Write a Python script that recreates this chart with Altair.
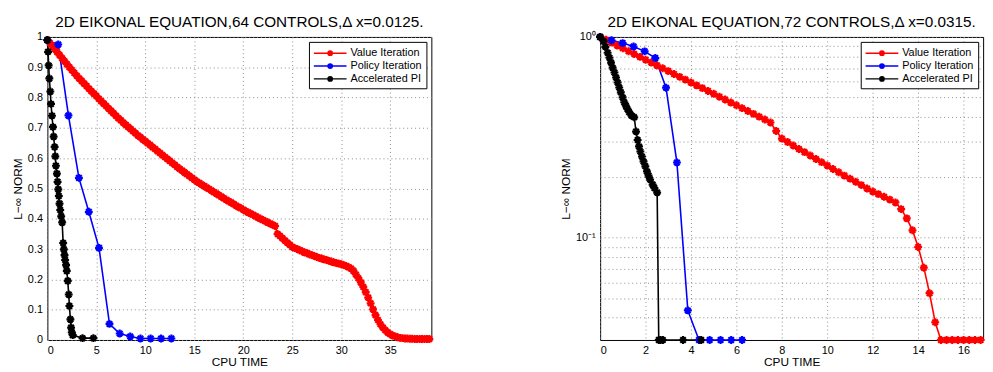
import altair as alt
import pandas as pd

METHODS = ["Value Iteration", "Policy Iteration", "Accelerated PI"]
COLORS = ["#ff0000", "#0000ff", "#000000"]

TITLE_64 = "2D EIKONAL EQUATION,64 CONTROLS,\u0394 x=0.0125."
TITLE_72 = "2D EIKONAL EQUATION,72 CONTROLS,\u0394 x=0.0315."

# ---- 2D Eikonal, 64 controls, dx = 0.0125 ----
VI_T_64 = [0, 0.25, 0.5, 0.75, 1, 1.25, 1.5, 1.75, 2, 2.25, 2.5, 2.75, 3, 3.25, 3.5, 3.75,
           4, 4.25, 4.5, 4.75, 5, 5.25, 5.5, 5.75, 6, 6.25, 6.5, 6.75, 7, 7.25, 7.5, 7.75,
           8, 8.25, 8.5, 8.75, 9, 9.25, 9.5, 9.75, 10, 10.25, 10.5, 10.75, 11, 11.25, 11.5,
           11.75, 12, 12.25, 12.5, 12.75, 13, 13.25, 13.5, 13.75, 14, 14.25, 14.5, 14.75,
           15, 15.25, 15.5, 15.75, 16, 16.25, 16.5, 16.75, 17, 17.25, 17.5, 17.75, 18, 18.25,
           18.5, 18.75, 19, 19.25, 19.5, 19.75, 20, 20.25, 20.5, 20.75, 21, 21.25, 21.5,
           21.75, 22, 22.25, 22.5, 22.75, 23, 23.25, 23.5, 23.75, 24, 24.25, 24.5, 24.75,
           25, 25.25, 25.5, 25.75, 26, 26.25, 26.5, 26.75, 27, 27.25, 27.5, 27.75, 28, 28.25,
           28.5, 28.75, 29, 29.25, 29.5, 29.75, 30, 30.25, 30.5, 30.75, 31, 31.25, 31.5,
           31.75, 32, 32.25, 32.5, 32.75, 33, 33.25, 33.5, 33.75, 34, 34.25, 34.5, 34.75,
           35, 35.25, 35.5, 35.75, 36, 36.25, 36.5, 36.75, 37, 37.25, 37.5, 37.75, 38, 38.25,
           38.5, 38.75, 39]
VI_E_64 = [0.990, 0.980, 0.970, 0.960, 0.950, 0.940, 0.930, 0.920, 0.910, 0.900, 0.891, 0.881,
           0.872, 0.863, 0.855, 0.846, 0.838, 0.829, 0.821, 0.813, 0.805, 0.796, 0.788, 0.780,
           0.772, 0.764, 0.756, 0.748, 0.740, 0.732, 0.725, 0.717, 0.710, 0.703, 0.696, 0.689,
           0.682, 0.675, 0.669, 0.662, 0.656, 0.649, 0.643, 0.636, 0.630, 0.623, 0.617, 0.610,
           0.604, 0.597, 0.591, 0.584, 0.578, 0.571, 0.565, 0.559, 0.553, 0.547, 0.541, 0.535,
           0.529, 0.523, 0.518, 0.513, 0.508, 0.503, 0.498, 0.493, 0.488, 0.483, 0.478, 0.473,
           0.468, 0.463, 0.458, 0.454, 0.449, 0.444, 0.439, 0.435, 0.430, 0.425, 0.421, 0.417,
           0.413, 0.408, 0.404, 0.400, 0.396, 0.392, 0.388, 0.384, 0.380, 0.376, 0.350, 0.343,
           0.336, 0.328, 0.321, 0.314, 0.307, 0.303, 0.300, 0.296, 0.293, 0.289, 0.286, 0.283,
           0.280, 0.277, 0.274, 0.271, 0.269, 0.266, 0.264, 0.261, 0.259, 0.256, 0.254, 0.252,
           0.250, 0.247, 0.244, 0.240, 0.236, 0.228, 0.216, 0.204, 0.190, 0.175, 0.158, 0.140,
           0.121, 0.101, 0.082, 0.066, 0.052, 0.041, 0.032, 0.025, 0.019, 0.015, 0.012, 0.009,
           0.007, 0.006, 0.005, 0.005, 0.004, 0.004, 0.003, 0.003, 0.003, 0.003, 0.003, 0.003,
           0.003]
PI_T_64 = [0, 1.11, 2.15, 3.22, 4.23, 5.27, 6.34, 7.38, 8.46, 9.50, 10.54, 11.61, 12.66]
PI_E_64 = [0.989, 0.975, 0.741, 0.535, 0.423, 0.304, 0.053, 0.0215, 0.0117, 0.005, 0.005,
           0.005, 0.005]
API_T_64 = [0, 0.07, 0.13, 0.20, 0.30, 0.37, 0.47, 0.57, 0.64, 0.74, 0.81, 0.87, 0.97, 1.04,
            1.11, 1.17, 1.24, 1.31, 1.41, 1.51, 1.61, 1.68, 1.75, 1.81, 1.91, 1.98, 2.08, 2.18,
            2.25, 2.35, 2.42, 2.49, 2.59, 3.59, 4.70]
API_E_64 = [0.990, 0.951, 0.906, 0.863, 0.820, 0.779, 0.740, 0.703, 0.671, 0.637, 0.606, 0.575,
            0.549, 0.522, 0.497, 0.475, 0.450, 0.429, 0.408, 0.388, 0.320, 0.299, 0.280, 0.264,
            0.247, 0.228, 0.195, 0.150, 0.112, 0.068, 0.041, 0.025, 0.016, 0.006, 0.006]

# ---- 2D Eikonal, 72 controls, dx = 0.0315 ----
VI_T_72 = [0, 0.25, 0.5, 0.75, 1, 1.25, 1.5, 1.75, 2, 2.25, 2.5, 2.75, 3, 3.25, 3.5, 3.75, 4,
           4.25, 4.5, 4.75, 5, 5.25, 5.5, 5.75, 6, 6.25, 6.5, 6.75, 7, 7.25, 7.5, 7.75, 8,
           8.25, 8.5, 8.75, 9, 9.25, 9.5, 9.75, 10, 10.25, 10.5, 10.75, 11, 11.25, 11.5, 11.75,
           12, 12.25, 12.5, 12.75, 13, 13.25, 13.5, 13.75, 14, 14.25, 14.5, 14.75, 15, 15.25,
           15.5, 15.75, 16, 16.25, 16.5, 16.75]
VI_E_72 = [1.000, 0.968, 0.937, 0.907, 0.878, 0.849, 0.822, 0.796, 0.770, 0.746, 0.722, 0.698,
           0.676, 0.654, 0.633, 0.613, 0.593, 0.574, 0.556, 0.538, 0.521, 0.504, 0.488, 0.472,
           0.457, 0.442, 0.428, 0.414, 0.401, 0.388, 0.375, 0.340, 0.312, 0.300, 0.288, 0.277,
           0.267, 0.257, 0.247, 0.238, 0.229, 0.220, 0.212, 0.204, 0.197, 0.190, 0.183, 0.176,
           0.170, 0.165, 0.160, 0.155, 0.150, 0.139, 0.125, 0.109, 0.090, 0.071, 0.053, 0.038,
           0.031, 0.031, 0.031, 0.031, 0.031, 0.031, 0.031, 0.031]
PI_T_72 = [0, 0.5, 0.99, 1.47, 1.96, 2.43, 2.90, 3.38, 3.86, 4.35, 4.82, 5.30, 5.77, 6.25]
PI_E_72 = [1.0, 0.963, 0.932, 0.896, 0.848, 0.785, 0.559, 0.237, 0.0435, 0.031, 0.031, 0.031,
           0.031, 0.031]
API_T_72 = [0, 0.15, 0.23, 0.33, 0.41, 0.48, 0.55, 0.63, 0.70, 0.77, 0.84, 0.91, 0.99, 1.06,
            1.13, 1.20, 1.28, 1.38, 1.50, 1.58, 1.65, 1.71, 1.77, 1.84, 1.91, 1.99, 2.06, 2.13,
            2.20, 2.31, 2.39, 2.51, 2.58, 2.66, 2.76, 3.65, 4.45]
API_E_72 = [1.0, 0.952, 0.893, 0.834, 0.788, 0.745, 0.703, 0.665, 0.628, 0.593, 0.560, 0.530,
            0.500, 0.473, 0.455, 0.438, 0.422, 0.406, 0.398, 0.338, 0.307, 0.285, 0.269, 0.254,
            0.240, 0.227, 0.214, 0.204, 0.195, 0.184, 0.177, 0.168, 0.031, 0.031, 0.031, 0.031,
            0.031]

X_TICKS_64 = [0, 5, 10, 15, 20, 25, 30, 35]
Y_TICKS_64 = [0, 0.1, 0.2, 0.3, 0.4, 0.5, 0.6, 0.7, 0.8, 0.9, 1]
X_TICKS_72 = [0, 2, 4, 6, 8, 10, 12, 14, 16]
Y_GRID_72 = [0.04, 0.05, 0.06, 0.07, 0.08, 0.09, 0.1, 0.2, 0.3, 0.4, 0.5, 0.6, 0.7, 0.8, 0.9, 1]

FONT = "Liberation Sans"
PLOT_H = 307
# asterisk-style data marker (eight rays)
ASTERISK = "M0,-1L0,1M-1,0L1,0M-0.7,-0.7L0.7,0.7M-0.7,0.7L0.7,-0.7"
# legend key: a line segment with a small solid dot in the middle
LEGEND_SYMBOL = ("M-2.55,0L2.55,0"
                 "M0.34,0A0.34,0.34,0,1,1,-0.34,0A0.34,0.34,0,1,1,0.34,0Z"
                 "M0.2,0A0.2,0.2,0,1,1,-0.2,0A0.2,0.2,0,1,1,0.2,0Z"
                 "M0.08,0A0.08,0.08,0,1,1,-0.08,0A0.08,0.08,0,1,1,0.08,0Z")


def long_frame(series):
    rows = []
    for name, times, errs in series:
        for t, e in zip(times, errs):
            rows.append({"t": t, "err": e, "method": name})
    return pd.DataFrame(rows)


def panel(df, title, x_dom, x_ticks, y_scale, y_axis, width):
    color = alt.Color(
        "method:N",
        scale=alt.Scale(domain=METHODS, range=COLORS),
        legend=alt.Legend(
            title=None, orient="top-right", offset=5,
            symbolType=LEGEND_SYMBOL, symbolSize=169, symbolStrokeWidth=1.4,
            symbolOffset=10,
            strokeColor="black", fillColor="white", padding=4, rowPadding=0,
            labelFont=FONT, labelFontSize=11, labelColor="black", labelOffset=13,
            cornerRadius=0,
        ),
    )
    base = alt.Chart(df).encode(
        x=alt.X("t:Q", title="CPU TIME",
                scale=alt.Scale(domain=x_dom, nice=False, zero=False),
                axis=alt.Axis(values=x_ticks, format="~g")),
        y=alt.Y("err:Q", title="L\u2212\u221e NORM", scale=y_scale, axis=y_axis),
        color=color,
    )
    lines = base.mark_line(strokeWidth=1.6)
    marks = base.mark_point(shape=ASTERISK, size=64, strokeWidth=2.2, filled=False, opacity=1)
    # panel heading, set just above the frame
    heading = alt.Chart(pd.DataFrame({"label": [title]})).mark_text(
        font=FONT, fontSize=15.5, color="black", align="center", baseline="alphabetic",
    ).encode(text="label:N", x=alt.value(width / 2), y=alt.value(-9.7))
    return alt.layer(lines, marks, heading).properties(width=width, height=PLOT_H)


df64 = long_frame([
    (METHODS[0], VI_T_64, VI_E_64),
    (METHODS[1], PI_T_64, PI_E_64),
    (METHODS[2], API_T_64, API_E_64),
])
df72 = long_frame([
    (METHODS[0], VI_T_72, VI_E_72),
    (METHODS[1], PI_T_72, PI_E_72),
    (METHODS[2], API_T_72, API_E_72),
])

left = panel(
    df64, TITLE_64,
    [0, 39.2], X_TICKS_64,
    alt.Scale(domain=[0, 1], nice=False),
    alt.Axis(values=Y_TICKS_64, format="~g"),
    389,
)
right = panel(
    df72, TITLE_72,
    [0, 16.86], X_TICKS_72,
    alt.Scale(type="log", domain=[0.031, 1], nice=False),
    alt.Axis(values=Y_GRID_72,
             labelExpr="datum.value == 1 ? '10\u2070' : (datum.value == 0.1 ? '10\u207b\u00b9' : '')"),
    388,
)

chart = (
    alt.hconcat(left, right, spacing=122)
    .resolve_scale(color="independent", x="independent", y="independent")
    .resolve_legend(color="independent")
    .properties(padding={"left": 11, "top": 12, "right": 3, "bottom": 0})
    .configure(font=FONT)
    .configure_view(stroke="black", strokeWidth=1)
    .configure_axis(
        grid=True, gridColor="#8c8c8c", gridDash=[1, 3], gridWidth=1,
        domain=False, ticks=False, tickSize=0,
        labelFont=FONT, labelFontSize=11, labelColor="black", labelPadding=5,
        titleFont=FONT, titleFontSize=12, titleFontWeight="normal", titleColor="black",
        titlePadding=3,
    )
    .configure_axisX(titlePadding=1)
)

chart.save("out.html", embed_options={"renderer": "svg", "actions": False})
